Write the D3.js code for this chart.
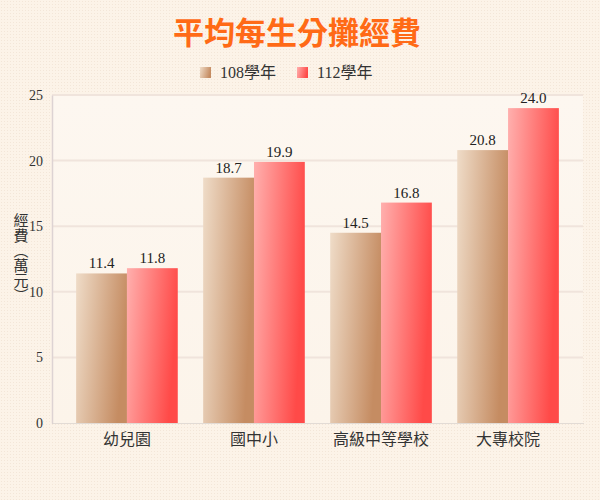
<!DOCTYPE html>
<html>
<head>
<meta charset="utf-8">
<script src="https://cdn.jsdelivr.net/npm/d3@7"></script>
<style>
  html, body { margin: 0; padding: 0; background: #fcf3e8; }
  svg { display: block; }
  .serif { font-family: "Liberation Serif", "Times New Roman", "Noto Sans CJK TC", serif; }
  .sans { font-family: "Noto Sans CJK TC", "Noto Sans", sans-serif; }
</style>
</head>
<body>
<div id="chart"></div>
<script>
// data
var categories = ["幼兒園", "國中小", "高級中等學校", "大專校院"];
var seriesNames = ["108學年", "112學年"];
var values108 = [11.4, 18.7, 14.5, 20.8];
var values112 = [11.8, 19.9, 16.8, 24.0];
var yTicks = [0, 5, 10, 15, 20, 25];

var width = 600,
	height = 500,
	margin = {top: 95, right: 17, bottom: 77, left: 52};

var svg = d3.select("#chart").append("svg")
	.attr("width", width)
	.attr("height", height);

var defs = svg.append("defs");

// faint dotted paper texture
var pat = defs.append("pattern")
	.attr("id", "dots")
	.attr("width", 3)
	.attr("height", 3)
	.attr("patternUnits", "userSpaceOnUse");
pat.append("rect").attr("width", 3).attr("height", 3).attr("fill", "#fcf3e8");
pat.append("rect").attr("x", 1).attr("y", 1).attr("width", 1).attr("height", 1).attr("fill", "#f3e6d8");

// bar gradients
function gradient(id, from, to) {
	var g = defs.append("linearGradient")
		.attr("id", id)
		.attr("x1", "0").attr("y1", "0")
		.attr("x2", "1").attr("y2", "0.25");
	g.append("stop").attr("offset", "0%").attr("stop-color", from);
	g.append("stop").attr("offset", "100%").attr("stop-color", to);
}
gradient("g108", "#efdcc8", "#c58c62");
gradient("g112", "#ffb0ae", "#ff4a48");

var plotBg = defs.append("linearGradient")
	.attr("id", "plotBg")
	.attr("x1", "0").attr("y1", "0").attr("x2", "0").attr("y2", "1");
plotBg.append("stop").attr("offset", "0%").attr("stop-color", "#fdf7f0");
plotBg.append("stop").attr("offset", "100%").attr("stop-color", "#fcf4ea");

svg.append("rect")
	.attr("width", width)
	.attr("height", height)
	.attr("fill", "url(#dots)");

var x0 = d3.scaleBand()
	.domain(categories)
	.range([margin.left, width - margin.right])
	.paddingInner(0.2)
	.paddingOuter(0.19);

var x1 = d3.scaleBand()
	.domain(seriesNames)
	.range([0, x0.bandwidth()]);

var y = d3.scaleLinear()
	.domain([0, 25])
	.range([height - margin.bottom, margin.top]);

// plot area
svg.append("rect")
	.attr("x", margin.left)
	.attr("y", margin.top)
	.attr("width", width - margin.left - margin.right)
	.attr("height", y(0) - margin.top)
	.attr("fill", "url(#plotBg)");

// gridlines
svg.append("g")
	.selectAll("line")
	.data(yTicks.filter(function(d) { return d > 0; }))
	.enter()
	.append("line")
	.attr("x1", margin.left)
	.attr("x2", width - margin.right)
	.attr("y1", function(d) { return y(d); })
	.attr("y2", function(d) { return y(d); })
	.attr("stroke", "#f0e4dc")
	.attr("stroke-width", 2);

// y axis
var yAxis = svg.append("g")
	.attr("transform", "translate(" + margin.left + ",0)")
	.call(d3.axisLeft(y).tickValues(yTicks).tickSize(0).tickPadding(9))
	.attr("font-family", null);
yAxis.select(".domain").attr("stroke", "#ddd3d3").attr("stroke-width", 1.5);
yAxis.selectAll("text")
	.attr("class", "serif")
	.style("font-size", "14px")
	.attr("fill", "#333");

// x axis
var xAxis = svg.append("g")
	.attr("transform", "translate(0," + y(0) + ")")
	.call(d3.axisBottom(x0).tickSize(0).tickPadding(11))
	.attr("font-family", null);
xAxis.select(".domain")
	.attr("stroke", "#c9c2c2")
	.attr("stroke-dasharray", "1,1")
	.attr("stroke-width", 1);
xAxis.selectAll("text")
	.attr("class", "sans")
	.style("font-size", "16px")
	.attr("fill", "#333");

// bars
var rows = categories.map(function(c, i) {
	return {cat: c, vals: [
		{name: seriesNames[0], v: values108[i], fill: "url(#g108)"},
		{name: seriesNames[1], v: values112[i], fill: "url(#g112)"}
	]};
});

var groups = svg.append("g")
	.selectAll("g")
	.data(rows)
	.enter()
	.append("g")
	.attr("transform", function(d) { return "translate(" + x0(d.cat) + ",0)"; });

groups.selectAll("rect")
	.data(function(d) { return d.vals; })
	.enter()
	.append("rect")
	.attr("x", function(d) { return x1(d.name); })
	.attr("y", function(d) { return y(d.v); })
	.attr("width", x1.bandwidth())
	.attr("height", function(d) { return y(0) - y(d.v); })
	.attr("fill", function(d) { return d.fill; });

groups.selectAll("text")
	.data(function(d) { return d.vals; })
	.enter()
	.append("text")
	.attr("class", "serif")
	.attr("x", function(d) { return x1(d.name) + x1.bandwidth() / 2; })
	.attr("y", function(d) { return y(d.v) - 5; })
	.attr("text-anchor", "middle")
	.style("font-size", "15px")
	.attr("fill", "#222")
	.text(function(d) { return d.v.toFixed(1); });

// y axis title, vertical writing
svg.append("text")
	.attr("class", "sans")
	.attr("x", 21)
	.attr("y", 213)
	.attr("writing-mode", "vertical-rl")
	.style("font-size", "15px")
	.attr("fill", "#333")
	.text("經費（萬元）");

// title
svg.append("text")
	.attr("class", "sans")
	.attr("x", 297)
	.attr("y", 44)
	.attr("text-anchor", "middle")
	.attr("font-weight", "bold")
	.style("font-size", "31px")
	.attr("fill", "#ff6a16")
	.text("平均每生分攤經費");

// legend
var legendX = [200, 297];
var legend = svg.append("g")
	.selectAll("g")
	.data(seriesNames)
	.enter()
	.append("g")
	.attr("transform", function(d, i) { return "translate(" + legendX[i] + ",67)"; });

legend.append("rect")
	.attr("width", 11)
	.attr("height", 11)
	.attr("fill", function(d, i) { return i === 0 ? "url(#g108)" : "url(#g112)"; });

legend.append("text")
	.attr("class", "serif")
	.attr("x", 20)
	.attr("y", 11)
	.style("font-size", "16px")
	.attr("fill", "#333")
	.text(function(d) { return d; });
</script>
</body>
</html>
